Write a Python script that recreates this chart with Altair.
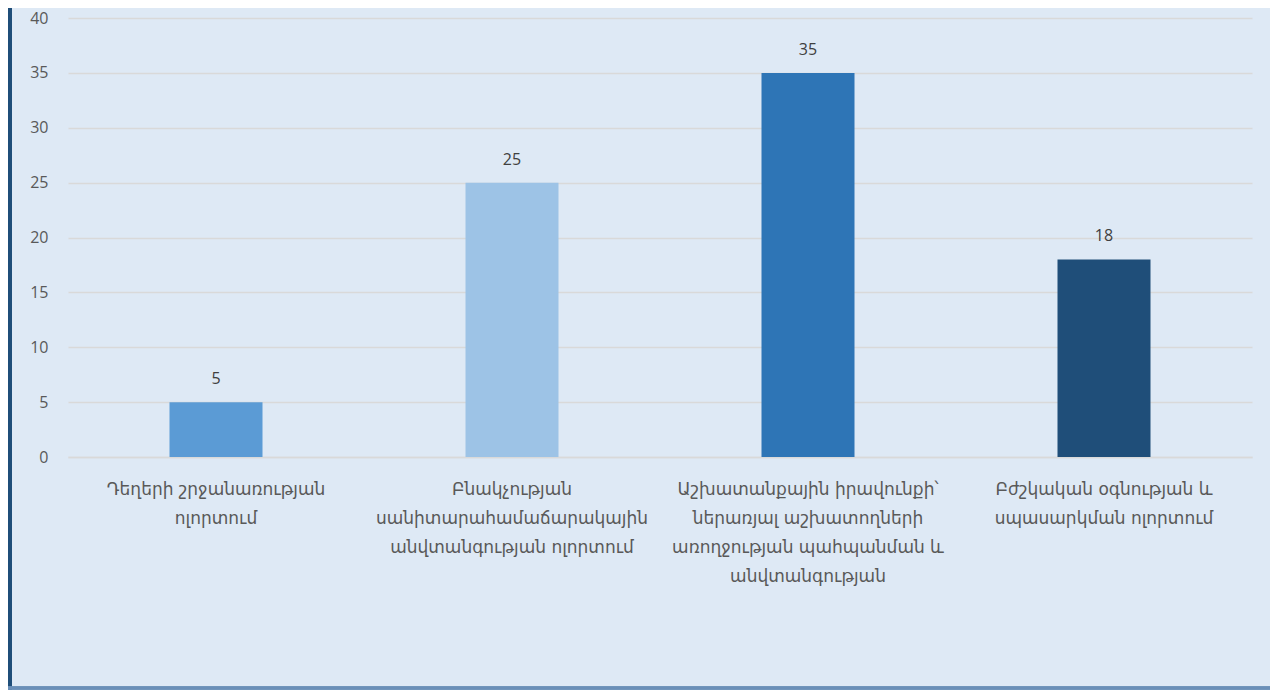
import altair as alt
import pandas as pd

categories = [
    "Դեղերի շրջանառության\nոլորտում",
    "Բնակչության\nսանիտարահամաճարակային\nանվտանգության ոլորտում",
    "Աշխատանքային իրավունքի՝\nներառյալ աշխատողների\nառողջության պահպանման և\nանվտանգության",
    "Բժշկական օգնության և\nսպասարկման ոլորտում",
]
values = [5, 25, 35, 18]
colors = ["#5b9bd5", "#9dc3e6", "#2e75b6", "#1f4e79"]

df = pd.DataFrame({"cat": categories, "val": values, "color": colors})

BG = "#dee9f5"
W, H = 1184, 439

x_enc = alt.X(
    "cat:N",
    sort=categories,
    scale=alt.Scale(paddingInner=0, paddingOuter=0),
    axis=alt.Axis(
        title=None,
        labelAngle=0,
        labelExpr="split(datum.label, '\\n')",
        labelFont="DejaVu Sans",
        labelFontSize=17,
        labelColor="#595959",
        labelLineHeight=29,
        labelPadding=24,
        labelLimit=400,
        domainColor="#d9d9d9",
        domainWidth=1.5,
        ticks=False,
    ),
)

bars = alt.Chart(df).mark_bar(size=93).encode(
    x=x_enc,
    y=alt.Y(
        "val:Q",
        scale=alt.Scale(domain=[0, 40], nice=False),
        axis=alt.Axis(
            title=None,
            values=[0, 5, 10, 15, 20, 25, 30, 35, 40],
            labelFont="Open Sans",
            labelFontSize=16,
            labelColor="#595959",
            labelPadding=20,
            domain=False,
            ticks=False,
            gridColor="#d9d9d9",
            gridWidth=1.5,
        ),
    ),
    color=alt.Color("color:N", scale=None, legend=None),
)

text = alt.Chart(df).mark_text(
    dy=-23, font="Open Sans", fontSize=16, color="#404040"
).encode(
    x=alt.X("cat:N", sort=categories),
    y="val:Q",
    text="val:Q",
)

left_border = alt.Chart(df).mark_rule(color="#1f4e79", strokeWidth=4).encode(
    x=alt.value(-58), y=alt.value(-12), y2=alt.value(H + 240)
)
bottom_border = alt.Chart(df).mark_rule(color="#6a8fb8", strokeWidth=3).encode(
    x=alt.value(-60), x2=alt.value(W + 20), y=alt.value(H + 231)
)

chart = (
    alt.layer(left_border, bottom_border, bars, text)
    .properties(
        width=W,
        height=H,
        background=BG,
        padding={"left": 60, "top": 10, "right": 18, "bottom": 233},
        autosize=alt.AutoSizeParams(type="none"),
    )
    .configure_view(stroke=None)
)

chart.save("out.html", embed_options={"renderer": "svg", "actions": False})
